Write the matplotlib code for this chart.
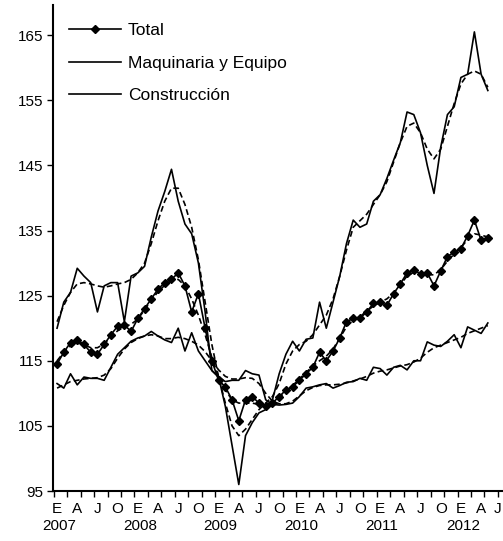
import matplotlib.pyplot as plt
from matplotlib.transforms import blended_transform_factory

plt.rcParams["font.family"] = ["Liberation Sans", "DejaVu Sans"]

# monthly index, Jan 2007 .. May 2012
months = list(range(65))

total = [114.5, 116.3, 117.8, 118.2, 117.5, 116.3, 116.0, 117.5, 119.0, 120.3,
         120.5, 119.5, 121.5, 123.0, 124.5, 126.0, 127.0, 127.5, 128.5, 126.5,
         122.5, 125.3, 120.0, 115.0, 112.0, 111.0, 109.0, 105.8, 109.0, 109.5,
         108.5, 108.0, 108.5, 109.5, 110.5, 111.0, 112.0, 113.0, 114.0, 116.3,
         115.0, 116.5, 118.5, 121.0, 121.5, 121.5, 122.5, 123.8, 124.0, 123.5,
         125.3, 126.8, 128.5, 129.0, 128.3, 128.5, 126.5, 128.8, 131.0, 131.7,
         132.2, 134.2, 136.6, 133.5, 133.8]
total_trend = [115.0, 116.3, 117.3, 117.7, 117.5, 117.0, 117.0, 117.6, 118.7, 119.6,
               120.2, 120.6, 121.4, 122.8, 124.3, 125.6, 126.6, 127.3, 127.5, 126.5,
               124.5, 122.0, 119.0, 115.5, 112.5, 110.5, 109.0, 108.5, 108.5, 108.5,
               108.3, 108.2, 108.5, 109.3, 110.3, 111.2, 112.2, 113.2, 114.2, 115.0,
               115.7, 116.8, 118.5, 120.2, 121.2, 121.8, 122.6, 123.4, 124.0, 124.5,
               125.4, 126.7, 128.0, 128.6, 128.5, 128.2, 128.2, 129.0, 130.3, 131.4,
               132.4, 133.6, 134.5, 134.3, 134.0]

maquinaria = [120.0, 124.0, 125.5, 129.2, 128.0, 127.0, 122.5, 126.5, 127.0, 127.0,
              121.0, 128.0, 128.5, 129.5, 134.0, 138.0, 141.0, 144.4, 139.5, 136.0,
              134.5, 130.0, 122.5, 113.5, 112.5, 108.0, 102.0, 96.0, 103.5, 105.5,
              107.0, 107.5, 109.0, 113.0, 116.0, 118.0, 116.5, 118.3, 118.5, 124.0,
              120.0, 124.0, 128.0, 133.0, 136.6, 135.5, 136.0, 139.5, 140.5, 143.0,
              145.8, 148.5, 153.2, 152.8, 150.0, 145.0, 140.7, 147.8, 152.8, 154.0,
              158.5, 159.0, 165.5, 159.0, 156.5]
maquinaria_trend = [121.0, 123.5, 125.5, 126.8, 127.0, 126.8, 126.5, 126.3, 126.5, 126.8,
                    127.0, 127.5, 128.5, 130.0, 133.0, 136.5, 139.5, 141.5, 141.5, 139.0,
                    135.5, 130.5, 124.0, 117.5, 112.5, 108.5, 105.0, 103.5, 104.5, 106.0,
                    107.5, 108.5, 109.5, 111.5, 114.5, 116.5, 117.5, 118.0, 119.0, 120.5,
                    122.0, 124.5, 128.0, 132.0, 135.5, 136.5, 137.5, 139.0, 140.5, 142.5,
                    145.5, 148.5, 151.0, 151.5, 150.0, 147.5, 146.0, 147.5, 151.0, 154.5,
                    157.5, 159.0, 159.5, 159.0, 157.0]

construccion = [111.5, 110.8, 113.0, 111.3, 112.5, 112.3, 112.3, 112.0, 114.0, 116.0,
                117.0, 118.0, 118.5, 118.8, 119.5, 118.8, 118.2, 117.8, 120.0, 116.5,
                119.3, 116.5, 115.0, 113.5, 112.5, 111.8, 112.0, 112.0, 113.5, 113.0,
                112.8, 109.0, 108.3, 108.2, 108.3, 108.5, 109.5, 110.8, 111.0, 111.3,
                111.5, 110.8, 111.2, 111.7, 111.8, 112.3, 112.0, 114.0, 113.8, 112.8,
                114.0, 114.3, 113.6, 115.0, 115.0, 117.9, 117.4, 117.2, 118.0, 119.0,
                117.0, 120.2, 119.7, 119.2, 120.8]
construccion_trend = [110.8, 111.3, 111.8, 112.0, 112.2, 112.3, 112.4, 112.8, 113.8, 115.4,
                      116.8, 117.8, 118.4, 118.8, 119.0, 118.8, 118.4, 118.4, 118.6, 118.4,
                      118.0, 117.4, 116.4, 115.0, 113.6, 112.6, 112.2, 112.2, 112.4, 112.3,
                      111.5, 110.0, 108.8, 108.4, 108.4, 108.8, 109.6, 110.4, 110.9, 111.2,
                      111.3, 111.3, 111.4, 111.6, 111.9, 112.2, 112.6, 113.1, 113.4, 113.6,
                      113.9, 114.2, 114.4, 114.8, 115.4, 116.3, 117.0, 117.4, 117.8, 118.2,
                      118.6, 119.2, 119.6, 120.0, 120.4]

month_labels = ["E", "A", "J", "O"] * 5 + ["E", "A", "J"]
years = ["2007", "2008", "2009", "2010", "2011", "2012"]

fig = plt.figure(figsize=(5.03, 5.41), dpi=100)
ax = fig.add_axes([0.1054, 0.0924, 0.9046, 0.898])

dash = (0, (3.5, 2))
ax.plot(months, total_trend, color="black", lw=1.2, ls=dash)
ax.plot(months, maquinaria_trend, color="black", lw=1.2, ls=dash)
ax.plot(months, construccion_trend, color="black", lw=1.2, ls=dash)

ax.plot(months, total, color="black", lw=1.2, marker="D", ms=4, label="Total")
ax.plot(months, maquinaria, color="black", lw=1.2, label="Maquinaria y Equipo")
ax.plot(months, construccion, color="black", lw=1.2, label="Construcción")

ax.set_xlim(-0.6, 67.0)
ax.set_ylim(95, 169.6)

for side in ["top", "right"]:
    ax.spines[side].set_visible(False)
ax.spines["left"].set_linewidth(1.5)
ax.spines["bottom"].set_linewidth(1.5)

ax.set_yticks(range(95, 166, 10))
ax.tick_params(axis="y", direction="out", length=4, width=1, labelsize=11, pad=3)

# month letters as major ticks (no marks), 2-month marks as minor ticks
ax.set_xticks(range(0, 67, 3))
ax.set_xticklabels(month_labels)
ax.tick_params(axis="x", which="major", length=0, labelsize=11, pad=8)
ax.get_xticklabels()[-1].set_ha("right")   # keep the last "J" inside the figure
ax.set_xticks([m - 0.5 for m in range(0, 67, 2)], minor=True)
ax.tick_params(axis="x", which="minor", direction="out", length=4, width=1)

trans = blended_transform_factory(ax.transData, ax.transAxes)
for i, y in enumerate(years):
    ax.text(i * 12 + 0.3, -0.071, y, transform=trans, ha="center", va="center", fontsize=11)

ax.legend(loc="upper left", bbox_to_anchor=(0.0, 0.995), frameon=False,
          fontsize=12.5, handlelength=3.0, labelspacing=1.0, handletextpad=0.4)

fig.savefig("out.png", dpi=100)
